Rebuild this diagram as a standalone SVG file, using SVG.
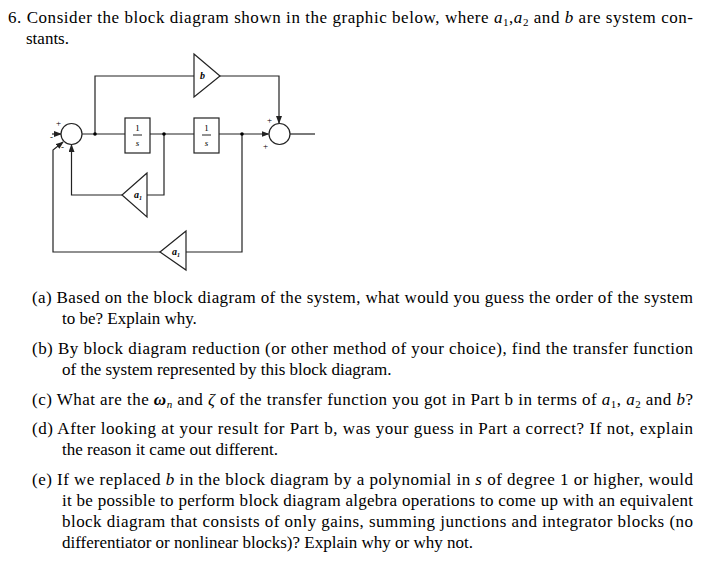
<svg xmlns="http://www.w3.org/2000/svg" width="715" height="567" viewBox="0 0 715 567">
<style>
.t{font-family:"Liberation Serif","Times New Roman",serif;font-size:17px;fill:#000}
.m{font-family:"Liberation Serif",serif;font-style:italic;font-size:10px;font-weight:bold}
.s{font-family:"Liberation Serif",serif;font-size:9px}
.l{fill:none;stroke:#222;stroke-width:1.2}
.b{fill:#fff;stroke:#222;stroke-width:1.2}
</style>
<defs><marker id="a" markerWidth="8" markerHeight="6" refX="7" refY="3" orient="auto" markerUnits="userSpaceOnUse"><path d="M0,0L8,3L0,6z" fill="#222"/></marker></defs>
<rect width="715" height="567" fill="#fff"/>
<text class="t" x="8" y="23" textLength="685" lengthAdjust="spacing">6. Consider the block diagram shown in the graphic below, where <tspan font-style="italic">a</tspan><tspan font-size="11" dy="3">1</tspan><tspan dy="-3">,</tspan><tspan font-style="italic">a</tspan><tspan font-size="11" dy="3">2</tspan><tspan dy="-3"> and </tspan><tspan font-style="italic">b</tspan> are system con-</text>
<text class="t" x="26" y="44">stants.</text>
<g id="connectors">
<path class="l" d="M52,134H61" marker-end="url(#a)"/>
<path class="l" d="M82,134H125M150,134H194M219,134H268.5" marker-end="url(#a)"/>
<path class="l" d="M290,134H315"/>
<path class="l" d="M95,134V76H194M220,76H279V123" marker-end="url(#a)"/>
<path class="l" d="M164,134V195H147M122,195H71.5V145" marker-end="url(#a)"/>
<path class="l" d="M242,134V252H186M160,252H53V150L63,142" marker-end="url(#a)"/>
<circle cx="95" cy="134" r="1.8"/><circle cx="164" cy="134" r="1.8"/><circle cx="242" cy="134" r="1.8"/>
</g>
<g id="sum1"><circle class="b" cx="71.5" cy="134" r="10.5"/><text class="s" x="56" y="126">+</text><text class="s" x="50" y="140">-</text><text class="s" x="61" y="150">-</text></g>
<g id="sum2"><circle class="b" cx="279.5" cy="134" r="10.5"/><text class="s" x="267" y="123">+</text><text class="s" x="263" y="149">+</text></g>
<g id="int1"><rect class="b" x="125" y="118" width="25" height="35"/><text class="s" x="137.5" y="131" text-anchor="middle">1</text><path d="M133,135H142" stroke="#222"/><text class="s" x="137.5" y="146" text-anchor="middle" font-style="italic">s</text></g>
<g id="int2"><rect class="b" x="194" y="118" width="25" height="35"/><text class="s" x="206.5" y="131" text-anchor="middle">1</text><path d="M202,135H211" stroke="#222"/><text class="s" x="206.5" y="146" text-anchor="middle" font-style="italic">s</text></g>
<g id="gainb"><path class="b" d="M194,54L220,76L194,97z"/><text class="m" x="200" y="79">b</text></g>
<g id="gaina1"><path class="b" d="M147,173L122,195L147,217z"/><text class="m" x="134" y="198">a<tspan font-size="6" dy="2">1</tspan></text></g>
<g id="gaina2"><path class="b" d="M186,231L160,252L186,270z"/><text class="m" x="172" y="255">a<tspan font-size="6" dy="2">1</tspan></text></g>
<g id="questions">
<text class="t" x="32" y="303" textLength="661" lengthAdjust="spacing">(a)  Based on the block diagram of the system, what would you guess the order of the system</text>
<text class="t" x="62" y="324">to be? Explain why.</text>
<text class="t" x="32" y="354" textLength="661" lengthAdjust="spacing">(b)  By block diagram reduction (or other method of your choice), find the transfer function</text>
<text class="t" x="62" y="375">of the system represented by this block diagram.</text>
<text class="t" x="32" y="405" textLength="661" lengthAdjust="spacing">(c)  What are the <tspan font-style="italic" font-weight="bold">ω</tspan><tspan font-style="italic" font-size="11" dy="3">n</tspan><tspan dy="-3"> and </tspan><tspan font-style="italic">ζ</tspan> of the transfer function you got in Part b in terms of <tspan font-style="italic">a</tspan><tspan font-size="11" dy="3">1</tspan><tspan dy="-3">, </tspan><tspan font-style="italic">a</tspan><tspan font-size="11" dy="3">2</tspan><tspan dy="-3"> and </tspan><tspan font-style="italic">b</tspan>?</text>
<text class="t" x="32" y="434" textLength="661" lengthAdjust="spacing">(d)  After looking at your result for Part b, was your guess in Part a correct? If not, explain</text>
<text class="t" x="62" y="455">the reason it came out different.</text>
<text class="t" x="32" y="485" textLength="661" lengthAdjust="spacing">(e)  If we replaced <tspan font-style="italic">b</tspan> in the block diagram by a polynomial in <tspan font-style="italic">s</tspan> of degree 1 or higher, would</text>
<text class="t" x="62" y="506" textLength="631" lengthAdjust="spacing">it be possible to perform block diagram algebra operations to come up with an equivalent</text>
<text class="t" x="62" y="527" textLength="631" lengthAdjust="spacing">block diagram that consists of only gains, summing junctions and integrator blocks (no</text>
<text class="t" x="62" y="548">differentiator or nonlinear blocks)? Explain why or why not.</text>
</g>
</svg>
